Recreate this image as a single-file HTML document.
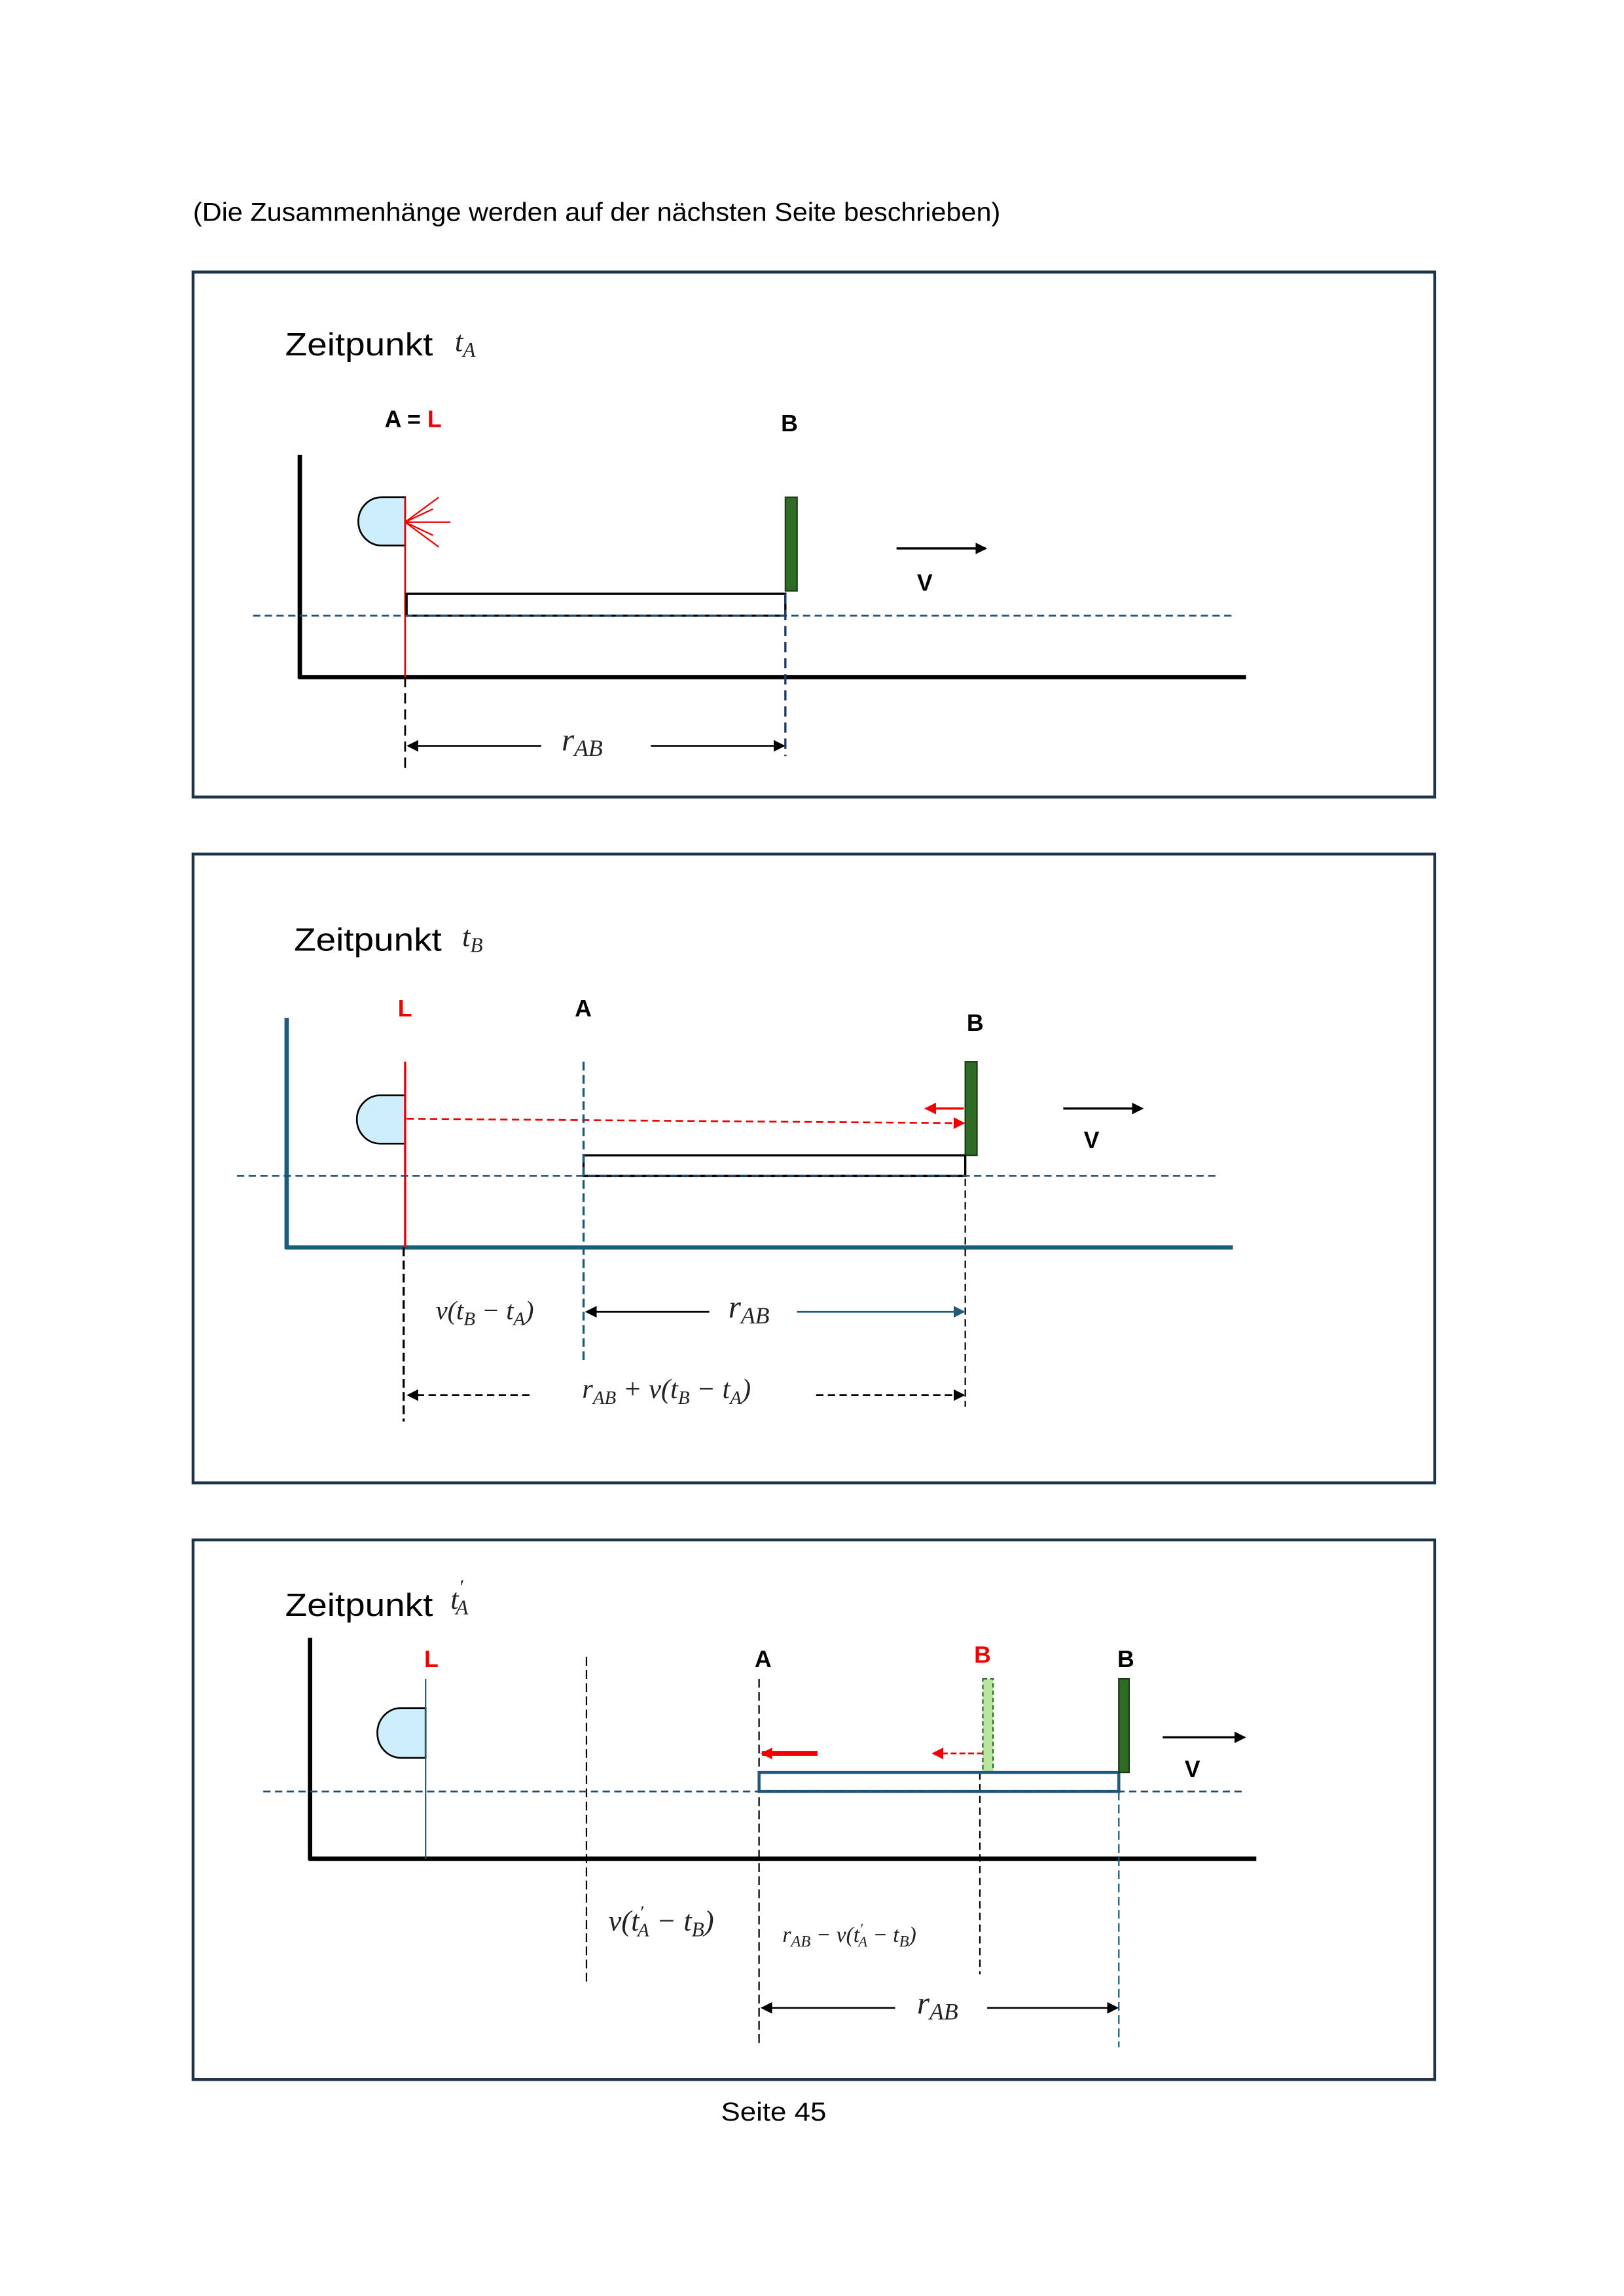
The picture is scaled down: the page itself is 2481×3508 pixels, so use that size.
<!DOCTYPE html>
<html><head><meta charset="utf-8"><style>html,body{margin:0;padding:0;background:#fff}svg{display:block}</style></head>
<body>
<svg width="2481" height="3508" viewBox="0 0 1110.4 1570" xmlns="http://www.w3.org/2000/svg">
<defs>
<marker id="ak" markerWidth="8" markerHeight="8" refX="7" refY="4" orient="auto" markerUnits="userSpaceOnUse"><path d="M0,0 L8,4 L0,8z" fill="#000"/></marker>
<marker id="ab" markerWidth="8" markerHeight="8" refX="7" refY="4" orient="auto" markerUnits="userSpaceOnUse"><path d="M0,0 L8,4 L0,8z" fill="#1f5a7a"/></marker>
<marker id="ar" markerWidth="8" markerHeight="8" refX="7" refY="4" orient="auto" markerUnits="userSpaceOnUse"><path d="M0,0 L8,4 L0,8z" fill="#e00"/></marker>
</defs>
<style>
.s{font-family:"Liberation Sans",sans-serif;fill:#000}
.m{font-family:"Liberation Serif",serif;font-style:italic;fill:#222}
.b{font-family:"Liberation Sans",sans-serif;font-weight:bold;font-size:16px}
</style>
<text x="132" y="151" class="s" font-size="18" textLength="552" lengthAdjust="spacingAndGlyphs">(Die Zusammenhänge werden auf der nächsten Seite beschrieben)</text>

<!-- Box 1 -->
<rect x="132" y="186" width="849" height="359" fill="none" stroke="#1f3346" stroke-width="2"/>
<text x="195" y="243" class="s" font-size="22" textLength="101" lengthAdjust="spacingAndGlyphs">Zeitpunkt</text>
<text x="311" y="240" class="m" font-size="20">t<tspan font-size="14" dy="4">A</tspan></text>
<text x="263" y="292" class="b">A = <tspan fill="#e00">L</tspan></text>
<text x="534" y="295" class="b">B</text>
<line x1="205" y1="311" x2="205" y2="464" stroke="#000" stroke-width="3"/>
<line x1="204" y1="463" x2="852" y2="463" stroke="#000" stroke-width="3"/>
<path d="M277,340 H261 A16,16.5 0 0 0 261,373 H277 Z" fill="#cdeefc" stroke="#000" stroke-width="1.2"/>
<g stroke="#e00" stroke-width="1"><line x1="277" y1="357" x2="308" y2="357"/><line x1="277" y1="357" x2="300" y2="340"/><line x1="277" y1="357" x2="300" y2="374"/><line x1="277" y1="357" x2="296" y2="348"/><line x1="277" y1="357" x2="296" y2="366"/></g>
<line x1="277" y1="340" x2="277" y2="463" stroke="#e00" stroke-width="1.2"/>
<rect x="278" y="406" width="259" height="15" fill="none" stroke="#000" stroke-width="1.5"/>
<rect x="537" y="340" width="8" height="64" fill="#2e6b25" stroke="#1a3a14" stroke-width="1"/>
<line x1="173" y1="421" x2="843" y2="421" stroke="#1f4e79" stroke-width="1.2" stroke-dasharray="5,3"/>
<line x1="537" y1="406" x2="537" y2="517" stroke="#1f3a6a" stroke-width="1.5" stroke-dasharray="7,4"/>
<line x1="277" y1="463" x2="277" y2="526" stroke="#000" stroke-width="1.2" stroke-dasharray="7,4"/>
<line x1="370" y1="510" x2="279" y2="510" stroke="#000" stroke-width="1.2" marker-end="url(#ak)"/>
<line x1="445" y1="510" x2="536" y2="510" stroke="#000" stroke-width="1.2" marker-end="url(#ak)"/>
<text x="384" y="513" class="m" font-size="22">r<tspan font-size="16" dy="4">AB</tspan></text>
<line x1="613" y1="375" x2="674" y2="375" stroke="#000" stroke-width="1.5" marker-end="url(#ak)"/>
<text x="627" y="404" class="b" font-size="18">V</text>

<!-- Box 2 -->
<rect x="132" y="584" width="849" height="430" fill="none" stroke="#1f3346" stroke-width="2"/>
<text x="201" y="650" class="s" font-size="22" textLength="101" lengthAdjust="spacingAndGlyphs">Zeitpunkt</text>
<text x="316" y="647" class="m" font-size="20">t<tspan font-size="14" dy="4">B</tspan></text>
<text x="272" y="695" class="b" style="fill:#e00">L</text>
<text x="393" y="695" class="b">A</text>
<text x="661" y="705" class="b">B</text>
<line x1="196" y1="696" x2="196" y2="854" stroke="#1f5a7a" stroke-width="3"/>
<line x1="195" y1="853" x2="843" y2="853" stroke="#1f5a7a" stroke-width="3"/>
<path d="M277,749 H260 A16,16.5 0 0 0 260,782 H277 Z" fill="#cdeefc" stroke="#000" stroke-width="1.2"/>
<line x1="277" y1="726" x2="277" y2="853" stroke="#e00" stroke-width="1.5"/>
<line x1="278" y1="765" x2="659" y2="768" stroke="#e00" stroke-width="1.2" stroke-dasharray="5,3" marker-end="url(#ar)"/>
<line x1="659" y1="758" x2="633" y2="758" stroke="#e00" stroke-width="1.5" marker-end="url(#ar)"/>
<rect x="399" y="790" width="261" height="14" fill="none" stroke="#000" stroke-width="1.5"/>
<rect x="660" y="726" width="8" height="64" fill="#2e6b25" stroke="#1a3a14" stroke-width="1"/>
<line x1="162" y1="804" x2="832" y2="804" stroke="#1f4e79" stroke-width="1.2" stroke-dasharray="5,3"/>
<line x1="399" y1="726" x2="399" y2="930" stroke="#1f5a7a" stroke-width="1.5" stroke-dasharray="6,3"/>
<line x1="660" y1="790" x2="660" y2="962" stroke="#000" stroke-width="1" stroke-dasharray="5,3"/>
<line x1="276" y1="853" x2="276" y2="972" stroke="#000" stroke-width="1.5" stroke-dasharray="6,3"/>
<text x="298" y="902" class="m" font-size="18">v(t<tspan font-size="13" dy="4">B</tspan><tspan dy="-4"> − t</tspan><tspan font-size="13" dy="4">A</tspan><tspan dy="-4">)</tspan></text>
<line x1="485" y1="897" x2="401" y2="897" stroke="#000" stroke-width="1.2" marker-end="url(#ak)"/>
<text x="498" y="901" class="m" font-size="22">r<tspan font-size="16" dy="4">AB</tspan></text>
<line x1="545" y1="897" x2="659" y2="897" stroke="#1f5a7a" stroke-width="1.2" marker-end="url(#ab)"/>
<line x1="362" y1="954" x2="279" y2="954" stroke="#000" stroke-width="1.2" stroke-dasharray="5,3" marker-end="url(#ak)"/>
<text x="398" y="956" class="m" font-size="19">r<tspan font-size="13" dy="4">AB</tspan><tspan dy="-4"> + v(t</tspan><tspan font-size="13" dy="4">B</tspan><tspan dy="-4"> − t</tspan><tspan font-size="13" dy="4">A</tspan><tspan dy="-4">)</tspan></text>
<line x1="558" y1="954" x2="659" y2="954" stroke="#000" stroke-width="1.2" stroke-dasharray="5,3" marker-end="url(#ak)"/>
<line x1="727" y1="758" x2="781" y2="758" stroke="#000" stroke-width="1.5" marker-end="url(#ak)"/>
<text x="741" y="785" class="b" font-size="18">V</text>

<!-- Box 3 -->
<rect x="132" y="1053" width="849" height="369" fill="none" stroke="#1f3346" stroke-width="2"/>
<text x="195" y="1105" class="s" font-size="22" textLength="101" lengthAdjust="spacingAndGlyphs">Zeitpunkt</text>
<text x="308" y="1100" class="m" font-size="20">t<tspan font-size="14" dy="-10">′</tspan><tspan font-size="14" dx="-5" dy="14">A</tspan></text>
<text x="290" y="1140" class="b" style="fill:#e00">L</text>
<text x="516" y="1140" class="b">A</text>
<text x="666" y="1137" class="b" style="fill:#e00">B</text>
<text x="764" y="1140" class="b">B</text>
<line x1="212" y1="1120" x2="212" y2="1272" stroke="#000" stroke-width="3"/>
<line x1="211" y1="1271" x2="859" y2="1271" stroke="#000" stroke-width="3"/>
<path d="M291,1168 H274 A16,17 0 0 0 274,1202 H291 Z" fill="#cdeefc" stroke="#000" stroke-width="1.2"/>
<line x1="291" y1="1148" x2="291" y2="1271" stroke="#1f5a7a" stroke-width="1"/>
<line x1="401" y1="1133" x2="401" y2="1357" stroke="#000" stroke-width="1" stroke-dasharray="6,3"/>
<line x1="519" y1="1148" x2="519" y2="1400" stroke="#000" stroke-width="1" stroke-dasharray="6,3"/>
<rect x="672" y="1148" width="7" height="64" fill="#b8e6a0" stroke="#2e6b25" stroke-width="1" stroke-dasharray="3,2"/>
<line x1="670" y1="1212" x2="670" y2="1350" stroke="#000" stroke-width="1" stroke-dasharray="5,3"/>
<rect x="519" y="1212" width="246" height="13" fill="none" stroke="#1f5a7a" stroke-width="2"/>
<rect x="765" y="1148" width="7" height="64" fill="#2e6b25" stroke="#1a3a14" stroke-width="1"/>
<line x1="180" y1="1225" x2="850" y2="1225" stroke="#1f4e79" stroke-width="1.2" stroke-dasharray="5,3"/>
<line x1="765" y1="1225" x2="765" y2="1400" stroke="#1f5a7a" stroke-width="1" stroke-dasharray="6,3"/>
<line x1="559" y1="1199" x2="521" y2="1199" stroke="#e00" stroke-width="3.5" marker-end="url(#ar)"/>
<line x1="672" y1="1199" x2="638" y2="1199" stroke="#e00" stroke-width="1.2" stroke-dasharray="4,2" marker-end="url(#ar)"/>
<line x1="795" y1="1188" x2="851" y2="1188" stroke="#000" stroke-width="1.5" marker-end="url(#ak)"/>
<text x="810" y="1215" class="b" font-size="18">V</text>
<text x="416" y="1320" class="m" font-size="20">v(t<tspan font-size="13" dy="-8">′</tspan><tspan font-size="13" dx="-4" dy="12">A</tspan><tspan dy="-4"> − t</tspan><tspan font-size="14" dy="4">B</tspan><tspan dy="-4">)</tspan></text>
<text x="535" y="1328" class="m" font-size="15">r<tspan font-size="11" dy="3">AB</tspan><tspan dy="-3"> − v(t</tspan><tspan font-size="10" dy="-6">′</tspan><tspan font-size="10" dx="-3" dy="9">A</tspan><tspan dy="-3"> − t</tspan><tspan font-size="11" dy="3">B</tspan><tspan dy="-3">)</tspan></text>
<line x1="612" y1="1373" x2="521" y2="1373" stroke="#000" stroke-width="1.2" marker-end="url(#ak)"/>
<text x="627" y="1377" class="m" font-size="22">r<tspan font-size="16" dy="4">AB</tspan></text>
<line x1="675" y1="1373" x2="764" y2="1373" stroke="#000" stroke-width="1.2" marker-end="url(#ak)"/>

<text x="493" y="1450" class="s" font-size="18" textLength="72" lengthAdjust="spacingAndGlyphs">Seite  45</text>
</svg>
</body></html>
